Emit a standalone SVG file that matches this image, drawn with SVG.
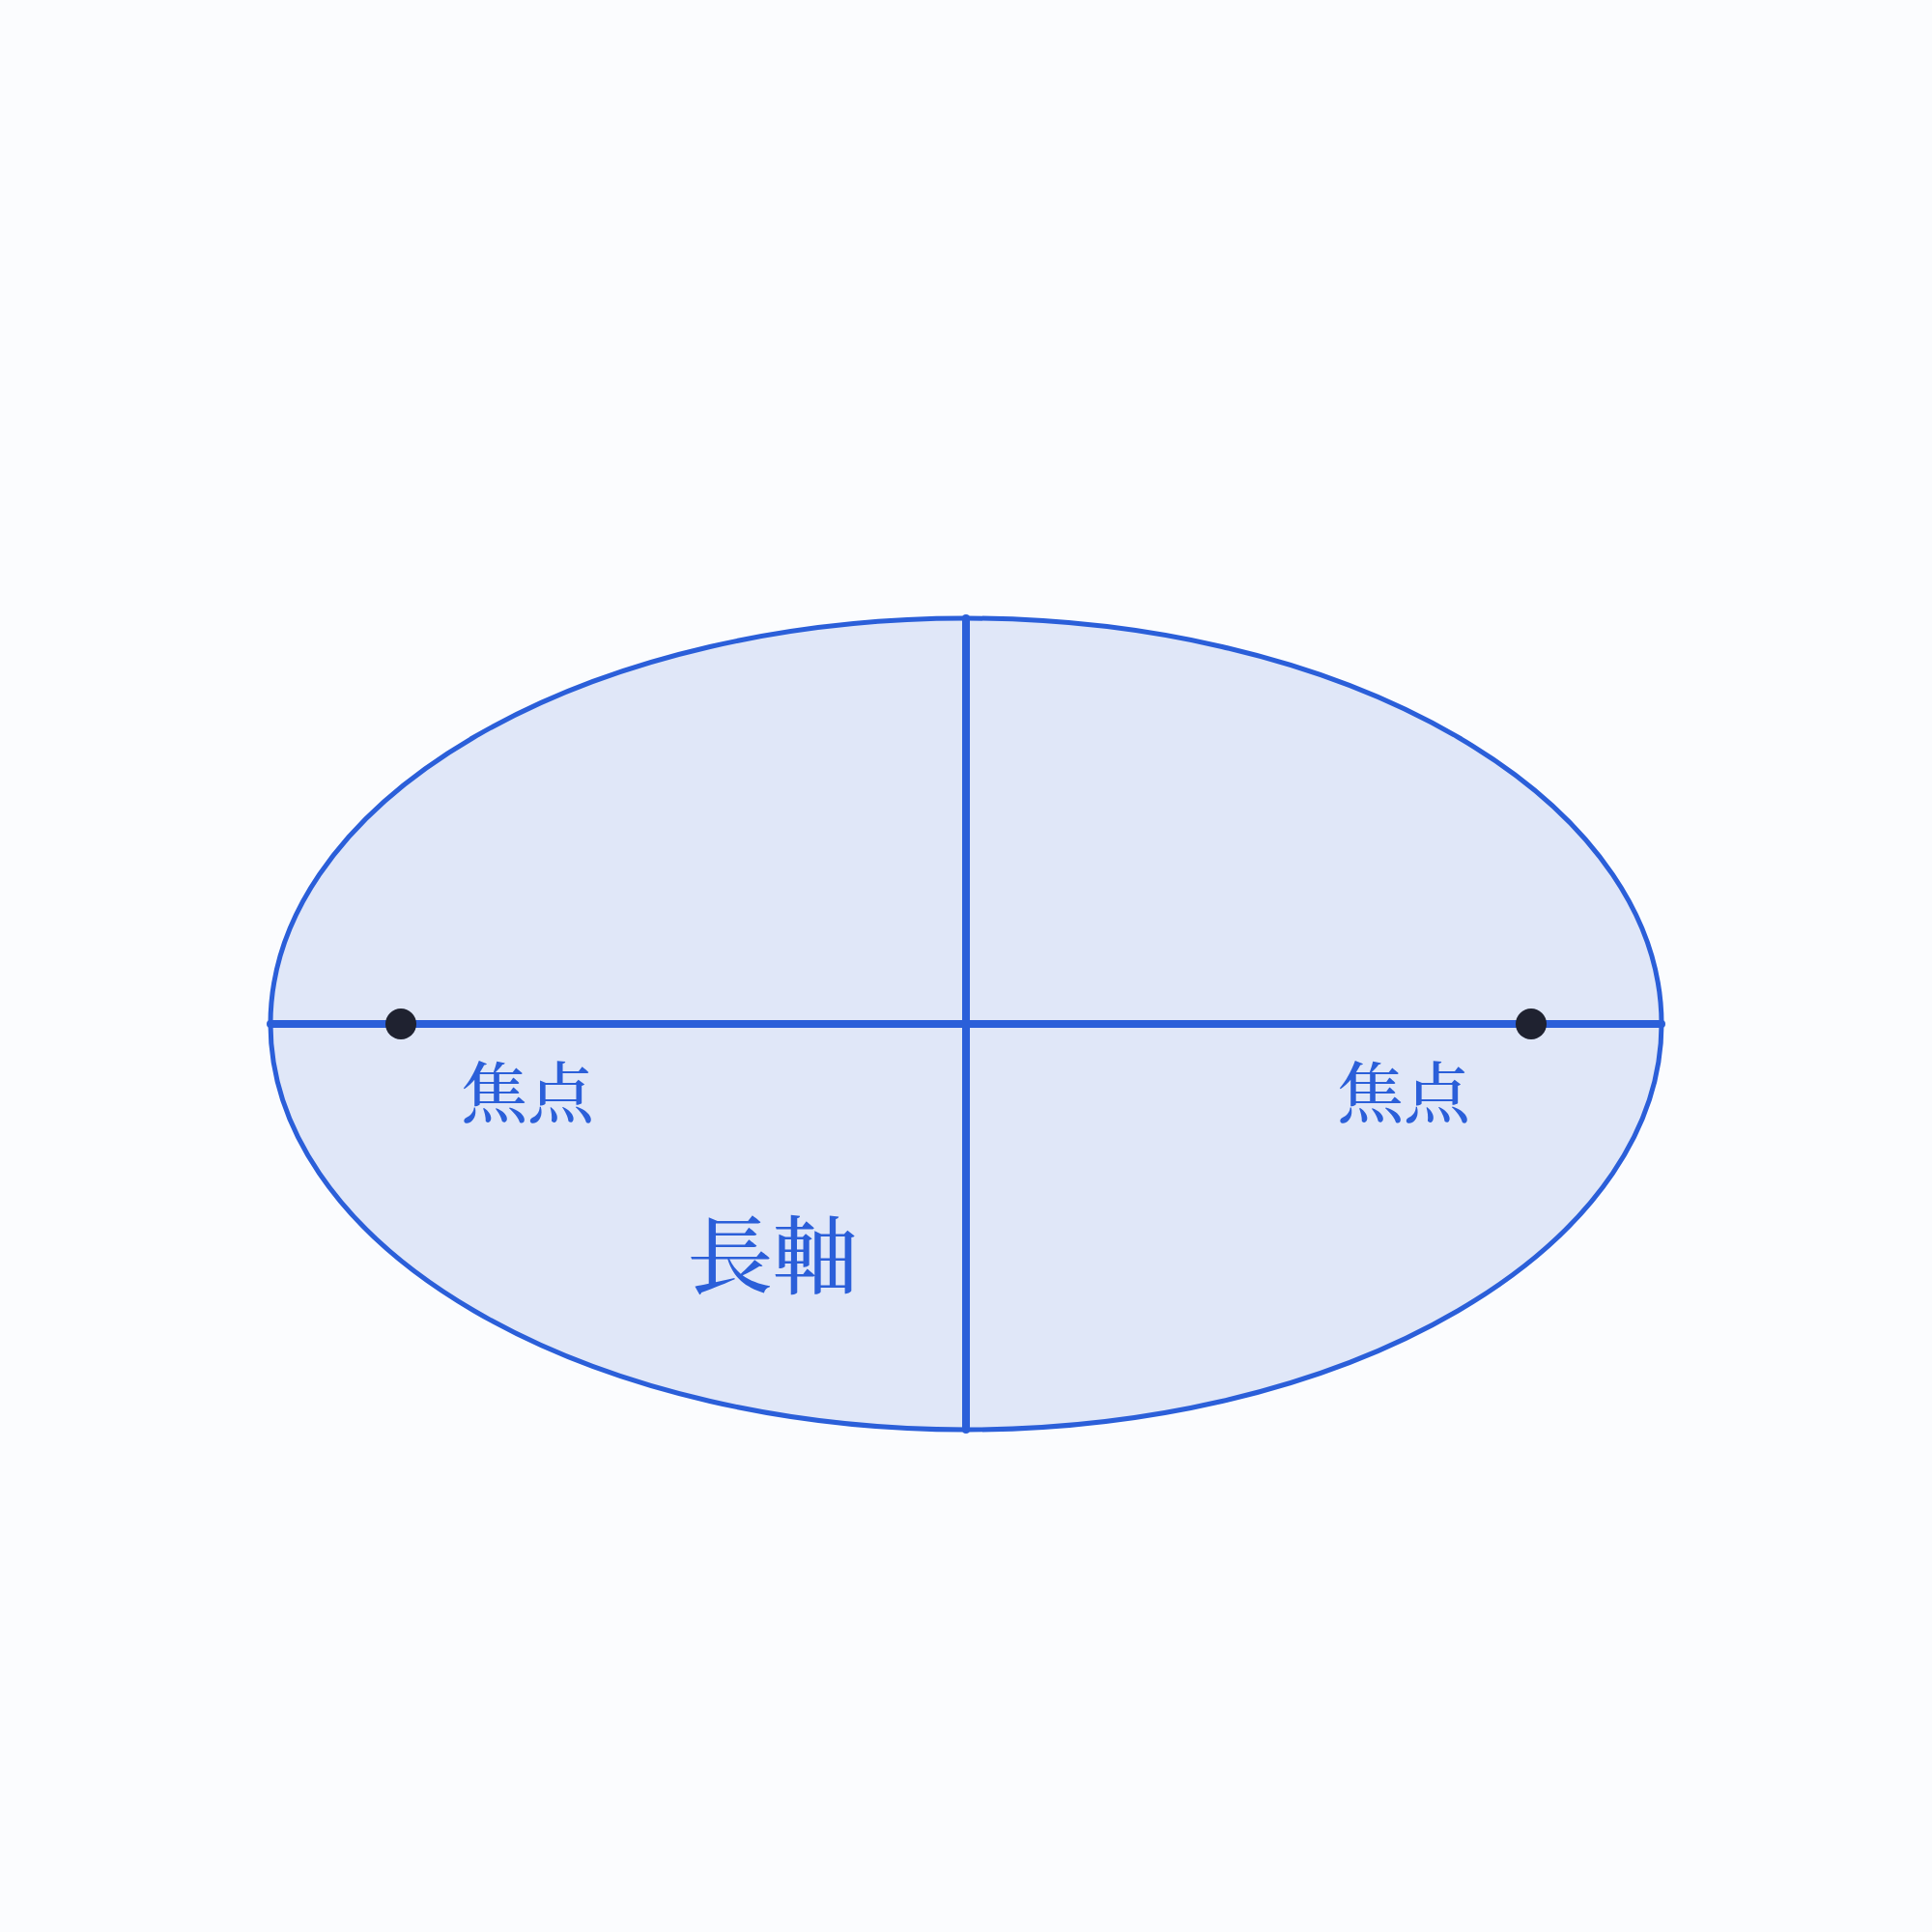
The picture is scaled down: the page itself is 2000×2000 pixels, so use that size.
<svg xmlns="http://www.w3.org/2000/svg" width="2000" height="2000" viewBox="0 0 2000 2000">
<style>
.axis{stroke:#2B5FD9;stroke-width:8;stroke-linecap:round;fill:none}
.lbl{font-family:"Noto Serif CJK JP","Noto Sans CJK JP",serif;fill:#2B5FD9;text-anchor:middle;font-weight:500}
.focus{fill:#1F2230}
</style>
<rect width="2000" height="2000" fill="#FBFCFE"/>
<g id="ellipse">
<ellipse cx="1000" cy="1060" rx="720" ry="420" fill="#E0E7F8" stroke="#2B5FD9" stroke-width="5"/>
</g>
<g id="connectors">
<line class="axis" x1="280" y1="1060" x2="1720" y2="1060"/>
<line class="axis" x1="1000" y1="640" x2="1000" y2="1480"/>
</g>
<g id="focus-left">
<circle class="focus" cx="415" cy="1060" r="16"/>
<text class="lbl" x="546" y="1157" font-size="69">焦点</text>
</g>
<g id="focus-right">
<circle class="focus" cx="1585" cy="1060" r="16"/>
<text class="lbl" x="1453" y="1157" font-size="69">焦点</text>
</g>
<g id="major-axis-label">
<text class="lbl" x="800" y="1332" font-size="88">長軸</text>
</g>
</svg>
